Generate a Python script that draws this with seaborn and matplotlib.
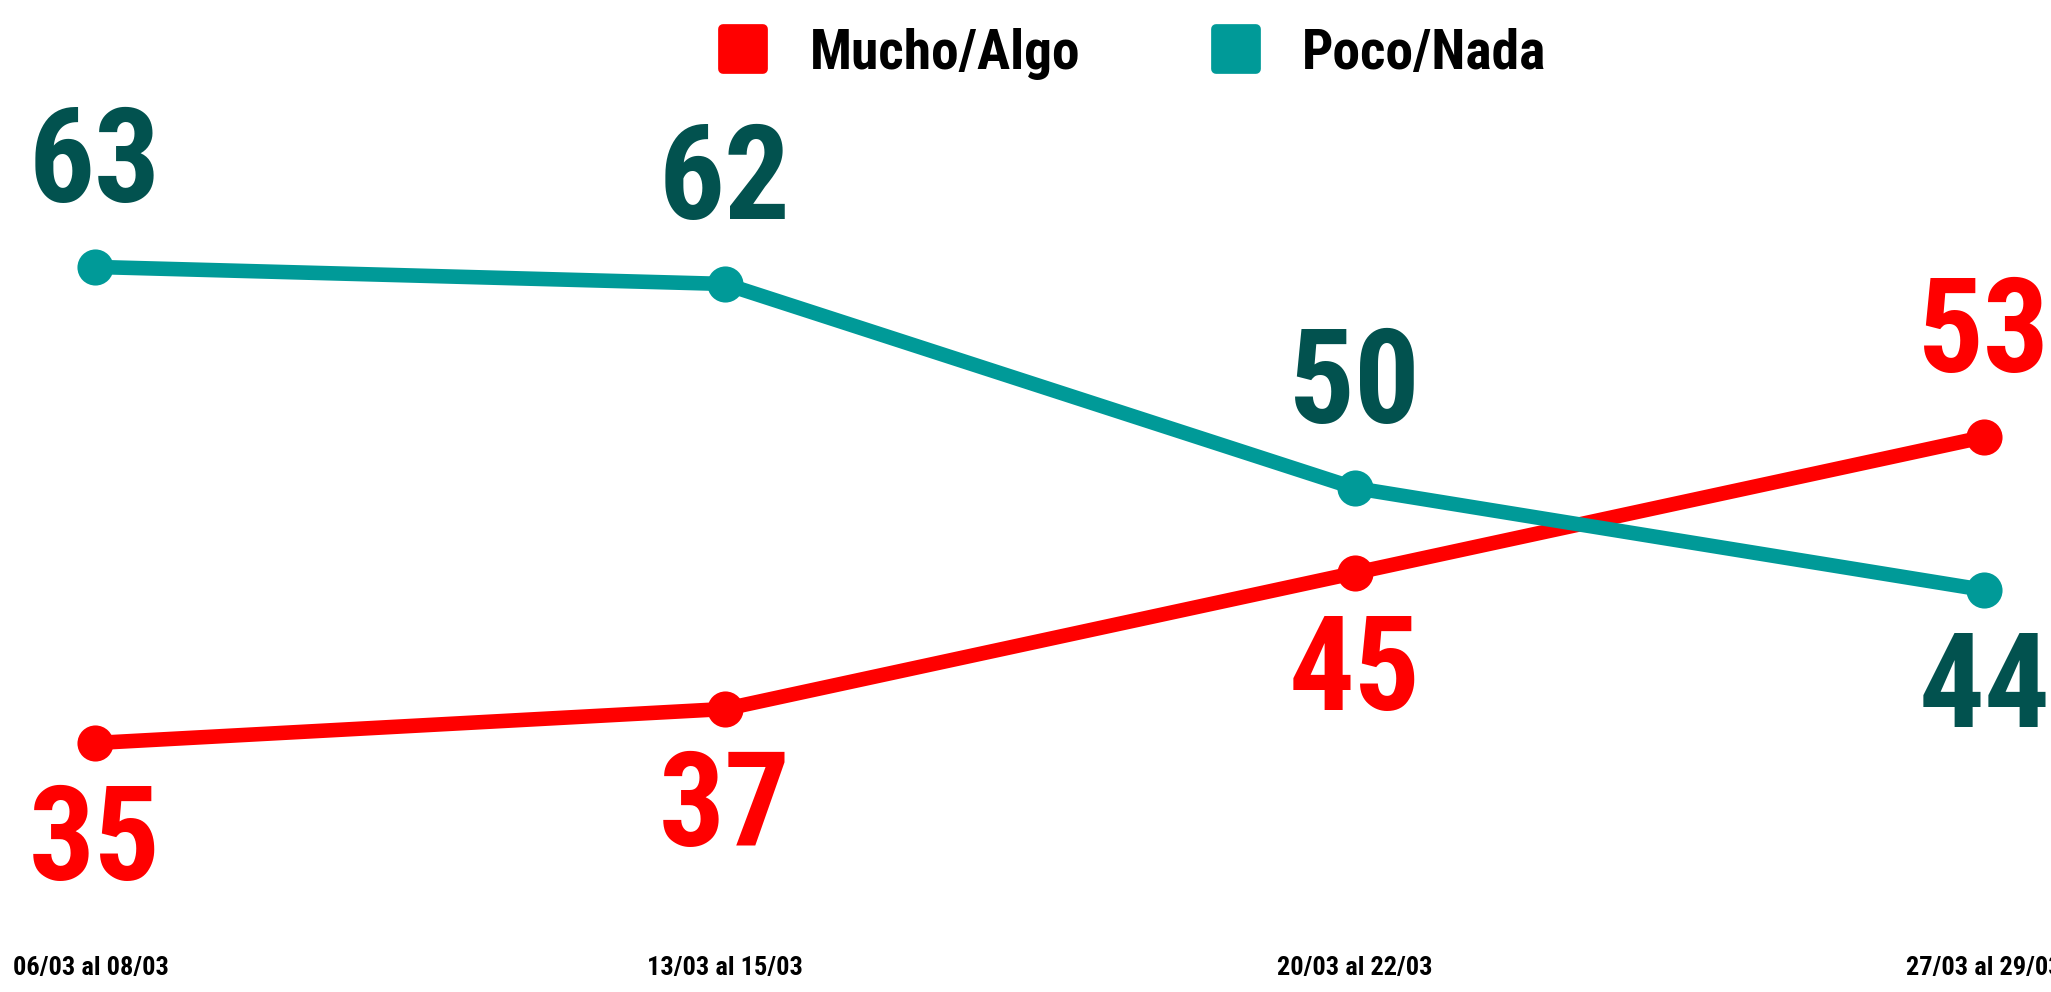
import matplotlib
matplotlib.use('Agg')
import matplotlib.pyplot as plt
import matplotlib.transforms as mtransforms
import pandas as pd
import seaborn as sns
from matplotlib import font_manager
from matplotlib.lines import Line2D
from matplotlib.markers import MarkerStyle

# Data
periods = ['06/03 al 08/03', '13/03 al 15/03', '20/03 al 22/03', '27/03 al 29/03']
mucho_algo = [35, 37, 45, 53]
poco_nada = [63, 62, 50, 44]
series_names = ['Mucho/Algo', 'Poco/Nada']

line_colors = {'Mucho/Algo': '#FF0000', 'Poco/Nada': '#009A98'}
label_colors = {'Mucho/Algo': '#FF0000', 'Poco/Nada': '#02524F'}
# label above (+1) or below (-1) the point
label_side = {'Mucho/Algo': [-1, -1, -1, 1], 'Poco/Nada': [1, 1, 1, -1]}

installed = {f.name for f in font_manager.fontManager.ttflist}
font = next((f for f in ['Roboto Condensed', 'Liberation Sans Narrow', 'Liberation Sans']
             if f in installed), 'DejaVu Sans')

sns.set_style('white')
plt.rcParams['font.family'] = [font, 'DejaVu Sans']

df = pd.DataFrame({
    'periodo': periods * 2,
    'valor': mucho_algo + poco_nada,
    'serie': [series_names[0]] * 4 + [series_names[1]] * 4,
})

fig = plt.figure(figsize=(20.51, 9.92), dpi=100)
ax = fig.add_axes([0, 47 / 992, 1, 945 / 992])

sns.lineplot(data=df, x='periodo', y='valor', hue='serie', hue_order=series_names,
             palette=line_colors, linewidth=10.5, marker='o', markersize=26,
             markeredgewidth=0, legend=False, ax=ax)

# value labels
for name in series_names:
    sub = df[df['serie'] == name].reset_index(drop=True)
    for i, row in sub.iterrows():
        ax.annotate(str(row['valor']), (i, row['valor']),
                    xytext=(0, 73 * label_side[name][i]), textcoords='offset points',
                    ha='center', va='center', fontsize=94, fontweight='bold',
                    color=label_colors[name], annotation_clip=False)

ax.set_xlim(-0.151, 3.106)
ax.set_ylim(23.12, 78.7)
ax.set_xlabel('')
ax.set_ylabel('')
ax.set_yticks([])
ax.tick_params(axis='x', length=0, pad=8, labelsize=19, labelcolor='black')
sns.despine(ax=ax, left=True, bottom=True)

# tick labels, the first one nudged to start near the left edge
ax.set_xticks(range(len(periods)))
ax.set_xticklabels(periods, fontweight='bold')
first = ax.get_xticklabels()[0]
first.set_horizontalalignment('left')
shift = mtransforms.ScaledTranslation(-0.82, 0, fig.dpi_scale_trans)
first.set_transform(first.get_transform() + shift)

# legend with rounded squares
handles = [Line2D([], [], linestyle='none',
                  marker=MarkerStyle('s', joinstyle='round'), markersize=29,
                  markerfacecolor=line_colors[n], markeredgecolor=line_colors[n],
                  markeredgewidth=7, label=n) for n in series_names]
leg = fig.legend(handles=handles, loc='upper left', bbox_to_anchor=(690 / 2051, 1.0),
                 ncol=2, frameon=False, prop={'size': 40, 'weight': 'bold'},
                 handlelength=0.9, handletextpad=0.75, columnspacing=2.35,
                 borderaxespad=0.1)
for t in leg.get_texts():
    t.set_color('black')

fig.savefig('out.png', dpi=100)
